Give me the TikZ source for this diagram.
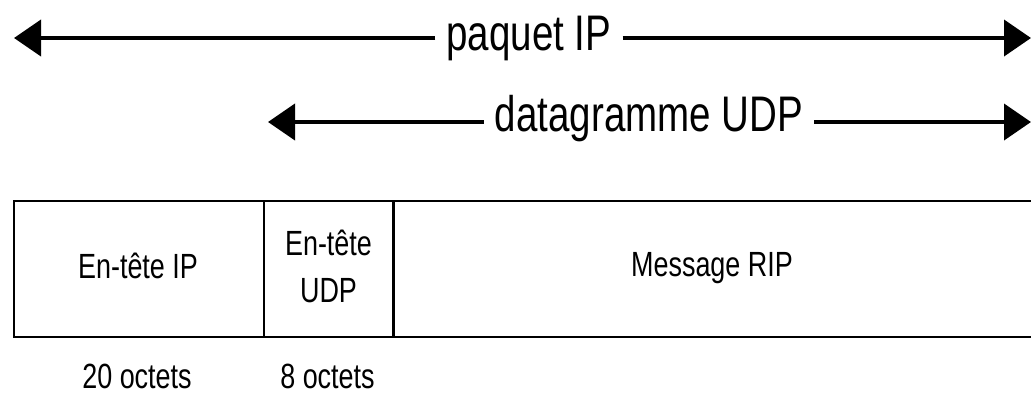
\documentclass[tikz,border=0pt]{standalone}
\usepackage{fontspec}
\setmainfont{Liberation Sans}
\newfontfamily\narrowsf[FakeStretch=0.77]{Liberation Sans}
\usetikzlibrary{arrows.meta}

\tikzset{
  spanarrow/.style={line width=4pt, -{Triangle[length=27pt,width=36pt]}},
  frame/.style={line width=2.8pt, line join=miter},
  titletext/.style={anchor=base, inner ysep=0pt, inner xsep=11pt,
    font=\narrowsf\fontsize{50}{50}\selectfont},
  celltext/.style={anchor=base, inner sep=0pt, align=center,
    font=\narrowsf\fontsize{35}{46.7}\selectfont},
}

\begin{document}
\begin{tikzpicture}[x=1pt, y=-1pt]
  \useasboundingbox (0,0) rectangle (1031,394);

  % span of the IP packet
  \node[titletext] (ip) at (529,50) {paquet IP};
  \coordinate (ipL) at (14,38);
  \coordinate (ipR) at (1031,38);
  \draw[spanarrow] (ip.west |- ipL) -- (ipL);
  \draw[spanarrow] (ip.east |- ipR) -- (ipR);

  % span of the UDP datagram
  \node[titletext] (udp) at (649,131.5) {datagramme UDP};
  \coordinate (udpL) at (268,122);
  \coordinate (udpR) at (1031,122);
  \draw[spanarrow] (udp.west |- udpL) -- (udpL);
  \draw[spanarrow] (udp.east |- udpR) -- (udpR);

  % packet layout
  \draw[frame] (14,201) rectangle (1050,337);
  \draw[frame] (264,201) -- (264,337);
  \draw[frame] (393.5,201) -- (393.5,337);

  \node[celltext] (hip) at (138,278) {En-tête IP};
  \node[celltext, anchor=north] (hudp) at (328.5,230) {En-tête\\UDP};
  \node[celltext] (msg) at (712,276.7) {Message RIP};

  % header sizes
  \node[celltext] (sip) at (137,388) {20 octets};
  \node[celltext] (sudp) at (327.5,388) {8 octets};
\end{tikzpicture}
\end{document}
